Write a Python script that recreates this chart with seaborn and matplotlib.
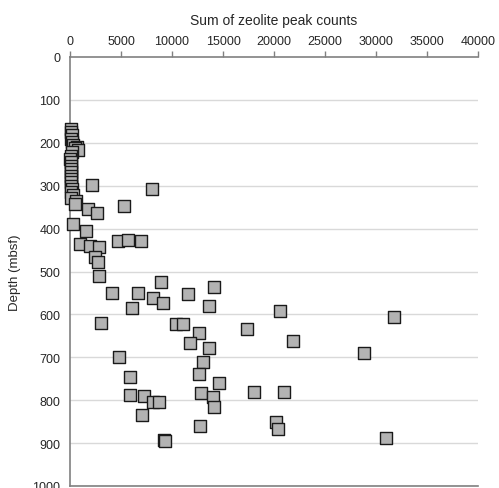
import matplotlib
matplotlib.use("Agg")
import matplotlib.pyplot as plt
import seaborn as sns
import pandas as pd

counts = [100, 100, 150, 100, 200, 300, 700, 500, 800, 200, 100, 0, 100, 100, 100, 100,
          100, 100, 100, 100, 200, 100, 300, 100, 600, 500,
          2150, 8050, 5300, 1750, 2600, 300, 1600, 1000, 1950, 2800, 4750, 5650, 6950,
          2450, 2700, 2800, 4100, 3000, 4800, 5900, 5850, 7300, 8100, 8700, 7100,
          6700, 6100, 8100, 8900, 9100, 11600, 14100, 13600, 20600, 10400, 11100,
          17400, 12600, 11800, 13600, 21900, 31800, 13000, 12600, 14600, 12800, 14000,
          14100, 18000, 21000, 12700, 20200, 20400, 9200, 9350, 28800, 31000]
depth = [168, 175, 182, 190, 197, 205, 210, 213, 216, 222, 230, 238, 245, 254, 262, 269,
         278, 285, 292, 301, 308, 315, 322, 328, 335, 343,
         299, 308, 348, 355, 363, 390, 406, 437, 440, 443, 428, 426, 428,
         466, 477, 511, 549, 621, 699, 745, 787, 790, 804, 804, 834,
         551, 585, 561, 524, 574, 552, 536, 580, 592, 623, 623,
         634, 644, 666, 679, 661, 607, 711, 739, 760, 784, 792,
         815, 781, 781, 861, 851, 866, 893, 894, 690, 888]

x_ticks = [0, 5000, 10000, 15000, 20000, 25000, 30000, 35000, 40000]
y_ticks = [0, 100, 200, 300, 400, 500, 600, 700, 800, 900, 1000]

df = pd.DataFrame({"counts": counts, "depth": depth})

sns.set_style("white")
plt.rcParams['font.family'] = ['Liberation Sans', 'DejaVu Sans']

fig = plt.figure(figsize=(4.99, 4.89), dpi=100)
ax = fig.add_axes([70/499, 1 - 487/489, (478-70)/499, (487-58)/489])

for yt in y_ticks[1:]:
    ax.axhline(yt, color='#d9d9d9', lw=1.0, zorder=0)

sns.scatterplot(data=df, x="counts", y="depth", marker='s', s=70,
                color='#b3b3b3', edgecolor='#1a1a1a', linewidth=1.0, ax=ax, zorder=3,
                clip_on=False)

ax.set_xlim(0, 40000)
ax.set_ylim(1000, 0)
ax.set_xticks(x_ticks)
ax.set_yticks(y_ticks)
ax.xaxis.tick_top()
ax.xaxis.set_label_position('top')
ax.set_xlabel("Sum of zeolite peak counts", fontsize=10, labelpad=8)
ax.set_ylabel("Depth (mbsf)", fontsize=9.5, labelpad=8)
ax.tick_params(axis='both', labelsize=9, length=4, width=1, color='#808080',
               direction='out', pad=3)

for s in ['left', 'top', 'bottom']:
    ax.spines[s].set_color('#808080')
    ax.spines[s].set_linewidth(1.2)
ax.spines['right'].set_visible(False)
ax.grid(False)

fig.savefig("out.png", dpi=100)
